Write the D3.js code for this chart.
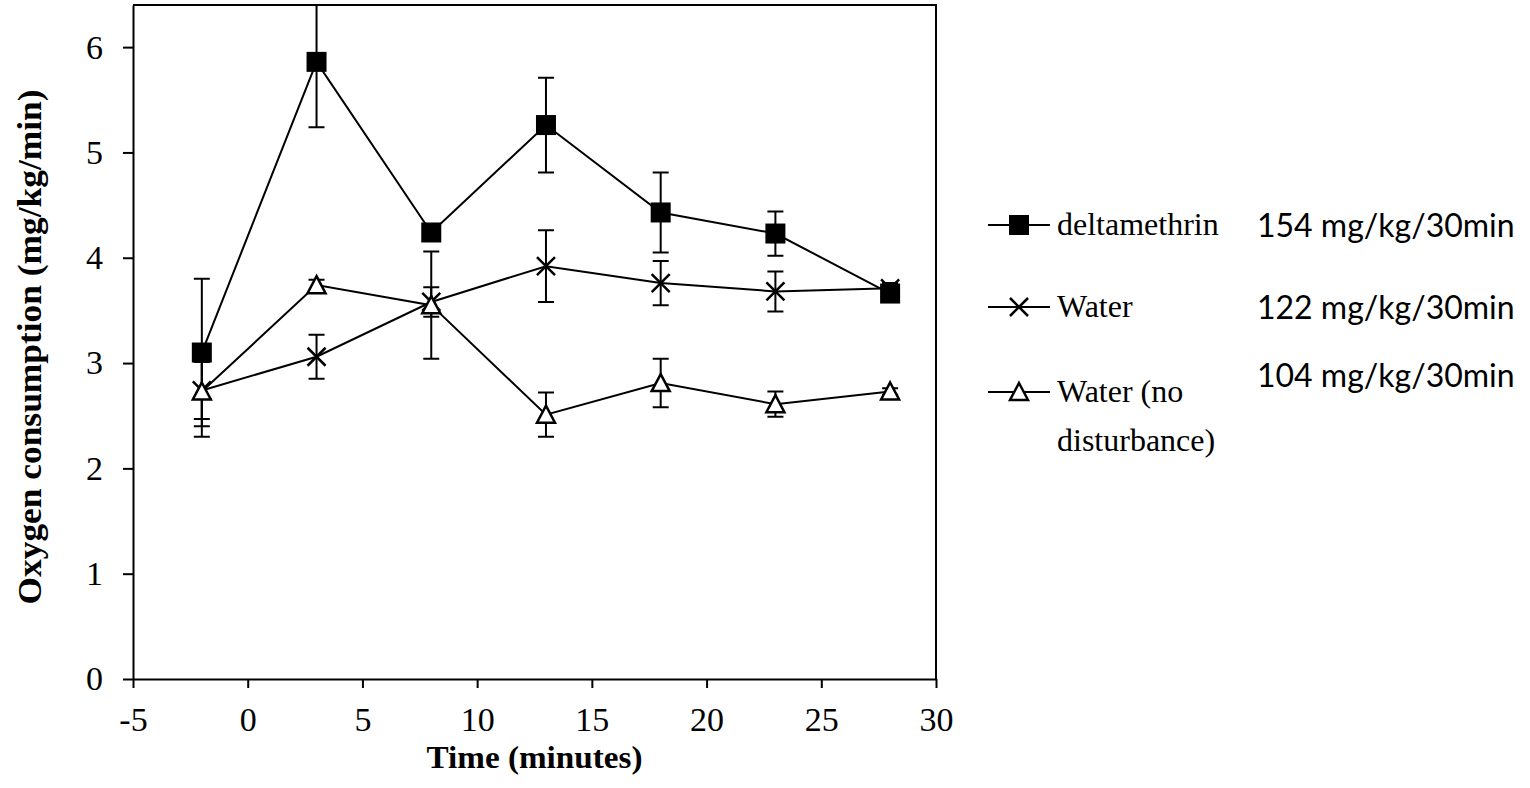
<!DOCTYPE html>
<html>
<head>
<meta charset="utf-8">
<script src="https://cdn.jsdelivr.net/npm/d3@7"></script>
<style>
  body { margin: 0; background: #fff; }
  svg { display: block; }
</style>
</head>
<body>
<div id="chart"></div>
<script>
// minutes after exposure
const times = [-2, 3, 8, 13, 18, 23, 28];

// oxygen consumption (mg/kg/min) and error bar half-widths
const deltaValues = [3.10, 5.86, 4.24, 5.26, 4.43, 4.23, 3.66];
const deltaErrors = [0.70, 0.62, 0.08, 0.45, 0.38, 0.21, 0.05];
const waterValues = [2.74, 3.06, 3.58, 3.92, 3.76, 3.68, 3.71];
const waterErrors = [0.27, 0.21, 0.14, 0.34, 0.21, 0.19, 0.05];
const calmValues = [2.73, 3.74, 3.55, 2.51, 2.81, 2.61, 2.73];
const calmErrors = [0.43, 0.05, 0.51, 0.21, 0.23, 0.12, 0.03];

const seriesNames = ["deltamethrin", "Water", "Water (no|disturbance)"];
const seriesTotals = ["154 mg/kg/30min", "122 mg/kg/30min", "104 mg/kg/30min"];

const xTicks = [-5, 0, 5, 10, 15, 20, 25, 30];
const yTicks = [0, 1, 2, 3, 4, 5, 6];

const series = [
  { name: seriesNames[0], total: seriesTotals[0], marker: "square", values: deltaValues, errors: deltaErrors },
  { name: seriesNames[1], total: seriesTotals[1], marker: "cross", values: waterValues, errors: waterErrors },
  { name: seriesNames[2], total: seriesTotals[2], marker: "triangle", values: calmValues, errors: calmErrors }
];

const W = 1530, H = 788;
const margin = { left: 133, top: 5, right: 1530 - 936, bottom: 788 - 679 };
const serif = "'Liberation Serif', 'Times New Roman', serif";
const sans = "Lato, 'Open Sans', sans-serif";

const svg = d3.select("#chart").append("svg")
  .attr("width", W)
  .attr("height", H);

const x = d3.scaleLinear().domain([-5, 30]).range([margin.left, W - margin.right]);
const y = d3.scaleLinear().domain([0, 6.4]).range([H - margin.bottom, margin.top]);

svg.append("clipPath").attr("id", "plotClip")
  .append("rect")
  .attr("x", x(-5)).attr("y", y(6.4))
  .attr("width", x(30) - x(-5)).attr("height", y(0) - y(6.4));

// ---------- axes ----------
const xAxis = svg.append("g")
  .attr("transform", `translate(0,${y(0)})`)
  .call(d3.axisBottom(x).tickValues(xTicks).tickFormat(d => String(d))
    .tickSize(9).tickSizeOuter(0).tickPadding(19));

const yAxis = svg.append("g")
  .attr("transform", `translate(${x(-5)},0)`)
  .call(d3.axisLeft(y).tickValues(yTicks).tickFormat(d => String(d))
    .tickSize(10).tickSizeOuter(0).tickPadding(20));

[xAxis, yAxis].forEach(ax => {
  ax.select(".domain").attr("stroke", "#000").attr("stroke-width", 2);
  ax.selectAll(".tick line").attr("stroke", "#000").attr("stroke-width", 2);
  ax.selectAll(".tick text")
    .attr("fill", "#000")
    .attr("font-family", serif)
    .attr("font-size", 34);
});
xAxis.selectAll(".tick text").attr("dy", "0.71em");

// top and right edges of the plot box
svg.append("path")
  .attr("d", `M${x(-5)},${y(6.4)}H${x(30)}V${y(0)}`)
  .attr("fill", "none")
  .attr("stroke", "#000")
  .attr("stroke-width", 2);

// ---------- titles ----------
svg.append("text")
  .attr("x", (x(-5) + x(30)) / 2)
  .attr("y", 768)
  .attr("text-anchor", "middle")
  .attr("font-family", serif)
  .attr("font-weight", "bold")
  .attr("font-size", 32)
  .attr("textLength", 216)
  .attr("lengthAdjust", "spacingAndGlyphs")
  .text("Time (minutes)");

svg.append("text")
  .attr("transform", `translate(41,${(y(0) + y(6.4)) / 2 + 5}) rotate(-90)`)
  .attr("text-anchor", "middle")
  .attr("font-family", serif)
  .attr("font-weight", "bold")
  .attr("font-size", 34)
  .attr("textLength", 515)
  .attr("lengthAdjust", "spacingAndGlyphs")
  .text("Oxygen consumption (mg/kg/min)");

// ---------- markers ----------
function drawMarker(g, type, cx, cy) {
  if (type === "square") {
    g.append("rect")
      .attr("x", cx - 10).attr("y", cy - 10)
      .attr("width", 20).attr("height", 20)
      .attr("fill", "#000");
  } else if (type === "cross") {
    g.append("path")
      .attr("d", `M${cx - 9},${cy - 9}L${cx + 9},${cy + 9}M${cx - 9},${cy + 9}L${cx + 9},${cy - 9}`)
      .attr("stroke", "#000")
      .attr("stroke-width", 2.5);
  } else {
    g.append("path")
      .attr("d", `M${cx},${cy - 9}L${cx + 9},${cy + 8}L${cx - 9},${cy + 8}Z`)
      .attr("fill", "#fff")
      .attr("stroke", "#000")
      .attr("stroke-width", 2.5)
      .attr("stroke-linejoin", "miter");
  }
}

const plot = svg.append("g").attr("clip-path", "url(#plotClip)");

const line = d3.line()
  .x((d, i) => x(times[i]))
  .y(d => y(d));

series.forEach(s => {
  const g = plot.append("g");

  // error bars
  s.values.forEach((v, i) => {
    const cx = x(times[i]);
    const top = y(v + s.errors[i]);
    const bot = y(v - s.errors[i]);
    g.append("path")
      .attr("d", `M${cx},${top}V${bot}M${cx - 8},${top}H${cx + 8}M${cx - 8},${bot}H${cx + 8}`)
      .attr("stroke", "#000")
      .attr("stroke-width", 2)
      .attr("fill", "none");
  });

  g.append("path")
    .datum(s.values)
    .attr("d", line)
    .attr("fill", "none")
    .attr("stroke", "#000")
    .attr("stroke-width", 2);

  s.values.forEach((v, i) => drawMarker(g, s.marker, x(times[i]), y(v)));
});

// ---------- legend ----------
const legendY = [225, 307, 392];

series.forEach((s, i) => {
  const row = svg.append("g").attr("transform", `translate(0,${legendY[i]})`);

  row.append("line")
    .attr("x1", 988).attr("x2", 1050)
    .attr("stroke", "#000").attr("stroke-width", 2);

  drawMarker(row, s.marker, 1019, 0);

  const lines = s.name.split("|");
  lines.forEach((t, j) => {
    row.append("text")
      .attr("x", 1057)
      .attr("y", 10 + j * 49)
      .attr("font-family", serif)
      .attr("font-size", 32)
      .text(t);
  });
});

const totalsY = [237, 319, 387];
seriesTotals.forEach((t, i) => {
  svg.append("text")
    .attr("x", 1257)
    .attr("y", totalsY[i])
    .attr("font-family", sans)
    .attr("font-size", 32)
    .attr("fill", "#000")
    .text(t);
});
</script>
</body>
</html>
